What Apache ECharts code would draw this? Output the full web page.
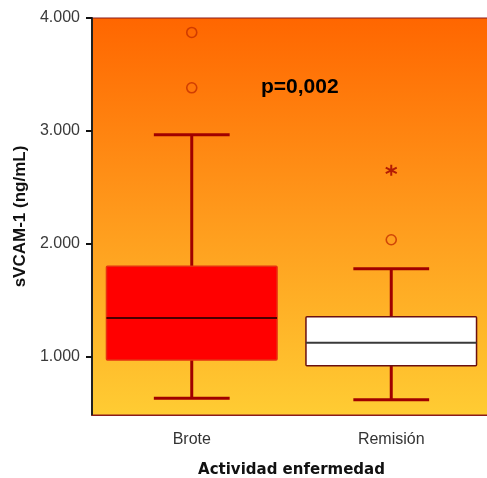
<!DOCTYPE html>
<html>
<head>
<meta charset="utf-8">
<script src="https://cdn.jsdelivr.net/npm/echarts@6/dist/echarts.min.js"></script>
<style>
  html, body { margin: 0; padding: 0; background: #ffffff; }
  #chart { width: 487px; height: 478px; }
</style>
</head>
<body>
<div id="chart"></div>
<script>
// Disease activity groups
const categories = ['Brote', 'Remisión'];
// Box summaries: [lower whisker, Q1, median, Q3, upper whisker] in ng/mL
const boxStats = [
  [628, 967, 1340, 1798, 2965],
  [616, 917, 1121, 1351, 1777]
];
// Mild outliers (circles): [group index, value]
const outliers = [
  [0, 3872],
  [0, 3381],
  [1, 2034]
];
// Extreme outliers (asterisks): [group index, value]
const extremes = [
  [1, 2649]
];
const yTicks = [1000, 2000, 3000, 4000];
const pText = 'p=0,002';

const boxFill = ['#ff0000', '#ffffff'];
const boxEdge = ['#e83010', '#6a1010'];
const medianColor = ['#4a0000', '#3a3a3a'];
const whiskerColor = '#a00000';

const chart = echarts.init(document.getElementById('chart'), null, { renderer: 'canvas' });

function fmt(v) {
  return String(v).replace(/\B(?=(\d{3})+(?!\d))/g, '.');
}

function renderBox(params, api) {
  const idx = api.value(0);
  const lo = api.coord([idx, api.value(1)]);
  const q1 = api.coord([idx, api.value(2)]);
  const med = api.coord([idx, api.value(3)]);
  const q3 = api.coord([idx, api.value(4)]);
  const hi = api.coord([idx, api.value(5)]);
  const band = api.size([1, 0])[0];
  const bw = band * 0.855;
  const cw = band * 0.38;
  const cx = lo[0];
  const wStyle = { stroke: whiskerColor, lineWidth: 3 };
  return {
    type: 'group',
    children: [
      { type: 'line', shape: { x1: cx, y1: q3[1], x2: cx, y2: hi[1] }, style: wStyle },
      { type: 'line', shape: { x1: cx, y1: q1[1], x2: cx, y2: lo[1] }, style: wStyle },
      { type: 'line', shape: { x1: cx - cw / 2, y1: hi[1], x2: cx + cw / 2, y2: hi[1] }, style: wStyle },
      { type: 'line', shape: { x1: cx - cw / 2, y1: lo[1], x2: cx + cw / 2, y2: lo[1] }, style: wStyle },
      {
        type: 'rect',
        shape: { x: cx - bw / 2, y: q3[1], width: bw, height: q1[1] - q3[1], r: 1 },
        style: { fill: boxFill[idx], stroke: boxEdge[idx], lineWidth: 1.5 }
      },
      {
        type: 'line',
        shape: { x1: cx - bw / 2, y1: med[1], x2: cx + bw / 2, y2: med[1] },
        style: { stroke: medianColor[idx], lineWidth: 2 }
      }
    ]
  };
}

const option = {
  animation: false,
  grid: {
    left: 92, top: 18, width: 399, height: 397,
    outerBoundsMode: 'none',
    containLabel: false,
    show: true,
    borderColor: '#8b1a1a',
    borderWidth: 1,
    backgroundColor: new echarts.graphic.LinearGradient(0, 0, 0, 1, [
      { offset: 0, color: '#ff6600' },
      { offset: 0.5, color: '#ff9a1c' },
      { offset: 1, color: '#ffcc33' }
    ])
  },
  xAxis: {
    type: 'category',
    data: categories,
    name: 'Actividad enfermedad',
    nameLocation: 'middle',
    nameGap: 48,
    nameTextStyle: { fontFamily: 'DejaVu Sans', fontWeight: 'bold', fontSize: 15, color: '#111' },
    axisLine: { lineStyle: { color: '#8b1a1a', width: 1 } },
    axisTick: { alignWithLabel: true, length: 7, lineStyle: { color: '#b00000', width: 2 } },
    axisLabel: { fontFamily: 'Liberation Sans', fontSize: 16, color: '#333', margin: 17 },
    splitLine: { show: false }
  },
  yAxis: {
    type: 'value',
    min: 480,
    max: 4000,
    name: 'sVCAM-1 (ng/mL)',
    nameLocation: 'middle',
    nameGap: 58,
    nameTextStyle: { fontFamily: 'Liberation Sans', fontWeight: 'bold', fontSize: 17, color: '#111' },
    axisLine: { show: true, lineStyle: { color: '#222', width: 2 } },
    axisTick: { show: true, length: 6, customValues: yTicks, lineStyle: { color: '#111', width: 2 } },
    axisLabel: {
      customValues: yTicks,
      fontFamily: 'Liberation Sans', fontSize: 16, color: '#3a3a3a', margin: 12,
      formatter: v => fmt(v)
    },
    splitLine: { show: false }
  },
  series: [
    {
      type: 'custom',
      renderItem: renderBox,
      encode: { x: 0, y: [1, 2, 3, 4, 5] },
      data: boxStats.map((s, i) => [i].concat(s)),
      z: 3
    },
    {
      type: 'scatter',
      data: outliers,
      symbol: 'circle',
      symbolSize: 10,
      itemStyle: { color: 'rgba(0,0,0,0)', borderColor: '#c43000', borderWidth: 1.6 },
      z: 4
    },
    {
      type: 'scatter',
      data: extremes,
      symbol: 'path://M0,-6L0,6M-5.2,-3L5.2,3M-5.2,3L5.2,-3',
      symbolSize: 11,
      itemStyle: { color: 'rgba(0,0,0,0)', borderColor: '#a00000', borderWidth: 2 },
      z: 4
    }
  ],
  graphic: [
    {
      type: 'text',
      left: 261,
      top: 77,
      style: {
        text: pText,
        font: 'bold 21px "Liberation Sans", Arial, sans-serif',
        fill: '#000'
      },
      z: 10
    }
  ]
};

chart.setOption(option);
</script>
</body>
</html>
